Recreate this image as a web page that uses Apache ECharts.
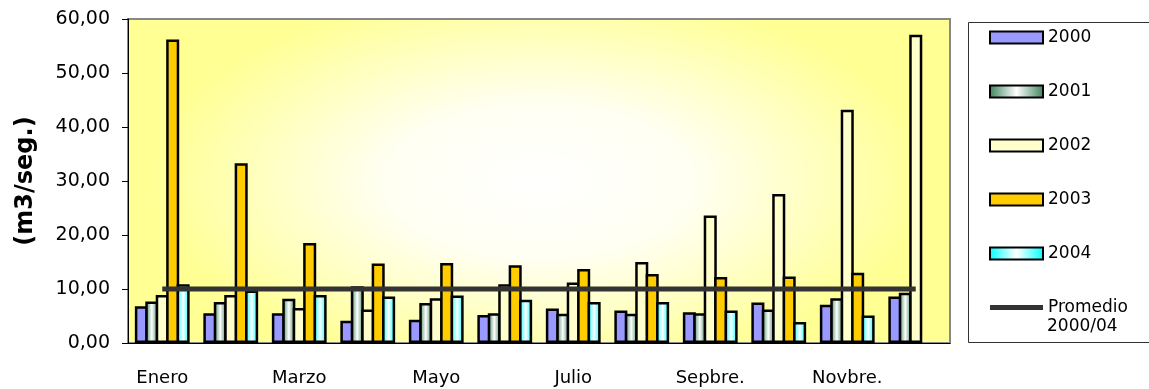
<!DOCTYPE html>
<html>
<head>
<meta charset="utf-8">
<script src="https://cdn.jsdelivr.net/npm/echarts@6/dist/echarts.min.js"></script>
<style>
    html, body {margin: 0; padding: 0; background: #fff;}
    #chart {width: 1149px; height: 389px;}
</style>
</head>
<body>
<div id="chart"></div>
<script>
var meses = ['Enero', 'Febrero', 'Marzo', 'Abril', 'Mayo', 'Junio', 'Julio', 'Agosto', 'Sepbre.', 'Octubre', 'Novbre.', 'Dicbre.'];
var v2000 = [6.8, 5.5, 5.5, 4.1, 4.3, 5.2, 6.4, 6.0, 5.7, 7.5, 7.1, 8.6];
var v2001 = [7.7, 7.6, 8.2, 10.5, 7.4, 5.5, 5.4, 5.4, 5.5, 6.2, 8.3, 9.3];
var v2002 = [8.9, 8.9, 6.5, 6.2, 8.3, 10.9, 11.2, 15.0, 23.6, 27.6, 43.2, 57.1];
var v2003 = [56.2, 33.3, 18.5, 14.7, 14.8, 14.4, 13.7, 12.8, 12.2, 12.3, 13.0, '-'];
var v2004 = [10.9, 9.7, 8.9, 8.6, 8.8, 8.0, 7.6, 7.6, 6.0, 3.9, 5.1, '-'];
var promedio = [10, 10, 10, 10, 10, 10, 10, 10, 10, 10, 10, 10];

var fuente = 'DejaVu Sans';
var myChart = echarts.init(document.getElementById('chart'));

// degradado horizontal (borde - blanco - borde)
function franja(c) {
    return new echarts.graphic.LinearGradient(0, 0, 1, 0, [
        {offset: 0, color: c},
        {offset: 0.5, color: '#ffffff'},
        {offset: 1, color: c}
    ]);
}

function barra(nombre, datos, relleno) {
    return {
        name: nombre,
        type: 'bar',
        data: datos,
        barGap: '-20%',
        barCategoryGap: '20%',
        itemStyle: {color: relleno, borderColor: '#000', borderWidth: 2.5}
    };
}

myChart.setOption({
    backgroundColor: '#fff',
    animation: false,
    textStyle: {fontFamily: fuente},
    grid: {
        left: 128, right: 199, top: 19, bottom: 46,
        show: true, backgroundColor: 'transparent',
        borderColor: '#888', borderWidth: 2
    },
    graphic: [{
        type: 'rect',
        x: 128, y: 19,
        scaleX: 2,
        shape: {x: 0, y: 0, width: 411, height: 324},
        style: {
            fill: new echarts.graphic.RadialGradient(0.5, 0.5, 0.6, [
                {offset: 0, color: '#ffffff'},
                {offset: 0.4, color: '#fffff2'},
                {offset: 0.75, color: '#ffffbb'},
                {offset: 1, color: '#ffff94'}
            ])
        },
        z: -1, silent: true
    }, {
        type: 'rect',
        shape: {x: 968.5, y: 22.5, width: 200, height: 320},
        style: {fill: 'none', stroke: '#333', lineWidth: 1},
        silent: true
    }, {
        type: 'text',
        x: 1047, y: 327,
        style: {text: '2000/04', font: '17px ' + fuente, fill: '#000', verticalAlign: 'middle'},
        silent: true
    }],
    legend: {
        orient: 'vertical',
        left: 984, top: 24,
        itemWidth: 53, itemHeight: 12,
        itemGap: 37,
        icon: 'rect',
        textStyle: {fontSize: 17, color: '#000', fontFamily: fuente},
        formatter: function(name) {
            return name === 'Promedio 2000/04' ? 'Promedio' : name;
        },
        data: ['2000', '2001', '2002', '2003', '2004',
            {name: 'Promedio 2000/04', icon: 'path://M0,0 L53,0 L53,5 L0,5 Z'}]
    },
    xAxis: {
        type: 'category',
        data: meses,
        axisLine: {lineStyle: {color: '#000', width: 1}},
        axisTick: {interval: 0, length: 7, lineStyle: {color: '#000'}},
        axisLabel: {interval: 1, margin: 26, fontSize: 18, color: '#000'}
    },
    yAxis: {
        type: 'value',
        min: 0, max: 60, interval: 10,
        name: '(m3/seg.)',
        nameLocation: 'middle',
        nameRotate: 90,
        nameGap: 90,
        nameTextStyle: {fontSize: 24, fontWeight: 'bold', color: '#000'},
        axisLine: {show: true, lineStyle: {color: '#000', width: 1}},
        axisTick: {show: true, length: 6, lineStyle: {color: '#000'}},
        splitLine: {show: false},
        axisLabel: {
            margin: 18, fontSize: 19, color: '#000',
            formatter: function(v) {
                return v.toFixed(2).replace('.', ',');
            }
        }
    },
    series: [
        barra('2000', v2000, '#9999ff'),
        barra('2001', v2001, franja('#3b825a')),
        barra('2002', v2002, '#ffffcc'),
        barra('2003', v2003, '#ffcc00'),
        barra('2004', v2004, franja('#00ffff')),
        {
            name: 'Promedio 2000/04',
            type: 'line',
            data: promedio,
            showSymbol: false,
            symbol: 'none',
            z: 5,
            lineStyle: {color: '#333333', width: 5},
            itemStyle: {color: '#333333'}
        }
    ]
});
</script>
</body>
</html>
